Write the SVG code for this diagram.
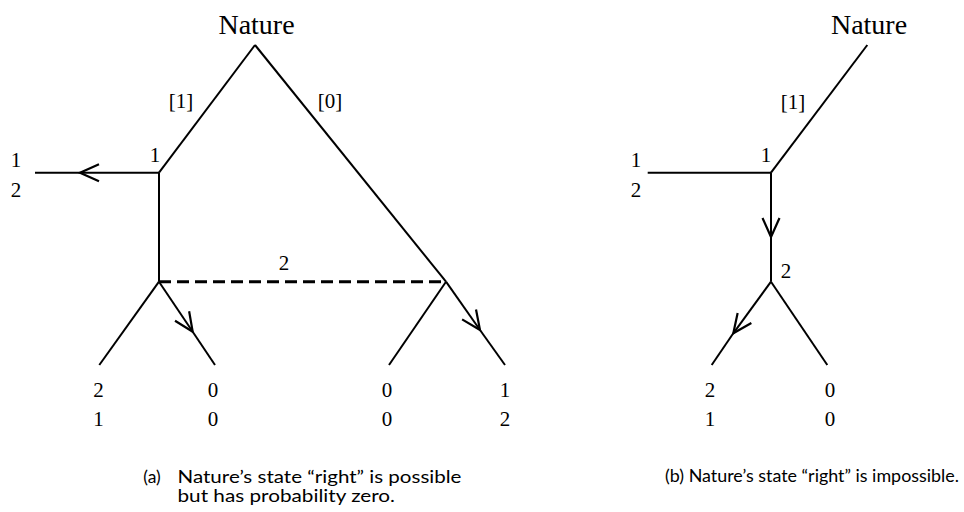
<svg xmlns="http://www.w3.org/2000/svg" width="964" height="512" viewBox="0 0 964 512">
<style>
.lbl{font-family:"Liberation Serif","Times New Roman",serif;font-size:21px;fill:#000;text-anchor:middle}
.nat{font-family:"Liberation Serif","Times New Roman",serif;font-size:28px;fill:#000;text-anchor:middle}
.cap{font-family:Lato,"Open Sans",sans-serif;font-size:17.5px;fill:#000}
.e{stroke:#000;stroke-width:2;fill:none;stroke-linecap:butt}
.dash{stroke:#000;stroke-width:3;fill:none;stroke-dasharray:12 6}
</style>
<defs>
<marker id="chev" markerUnits="userSpaceOnUse" markerWidth="1" markerHeight="1" refX="0" refY="0" orient="auto" overflow="visible">
<path d="M -19 -8.5 L 0 0 L -19 8.5" fill="none" stroke="#000" stroke-width="2.2" stroke-linejoin="miter" stroke-linecap="butt"/>
</marker>
</defs>
<rect width="964" height="512" fill="#fff"/>
<g id="connectors">
<!-- (a) -->
<line class="e" x1="255" y1="45" x2="159" y2="172.7"/>
<line class="e" x1="255" y1="45" x2="446" y2="281.7"/>
<line class="e" x1="159" y1="172.7" x2="80" y2="172.7" marker-end="url(#chev)"/>
<line class="e" x1="80" y1="172.7" x2="35" y2="172.7"/>
<line class="e" x1="159" y1="172.7" x2="159" y2="281.7"/>
<line class="dash" x1="159" y1="281.7" x2="446" y2="281.7"/>
<line class="e" x1="159" y1="281.7" x2="99.3" y2="365"/>
<line class="e" x1="159" y1="281.7" x2="192.7" y2="331.7" marker-end="url(#chev)"/>
<line class="e" x1="192.7" y1="331.7" x2="215" y2="365"/>
<line class="e" x1="446" y1="281.7" x2="389" y2="365"/>
<line class="e" x1="446" y1="281.7" x2="480" y2="330" marker-end="url(#chev)"/>
<line class="e" x1="480" y1="330" x2="505" y2="365"/>
<!-- (b) -->
<line class="e" x1="867.3" y1="45" x2="771" y2="172.7"/>
<line class="e" x1="771" y1="172.7" x2="647.7" y2="172.7"/>
<line class="e" x1="771" y1="172.7" x2="771" y2="237" marker-end="url(#chev)"/>
<line class="e" x1="771" y1="237" x2="771" y2="281.7"/>
<line class="e" x1="771" y1="281.7" x2="733.3" y2="333.3" marker-end="url(#chev)"/>
<line class="e" x1="733.3" y1="333.3" x2="711.7" y2="365"/>
<line class="e" x1="771" y1="281.7" x2="827.3" y2="365"/>
</g>
<!-- diagram (a) nodes -->
<g id="a-nature"><text class="nat" x="256.5" y="34">Nature</text></g>
<g id="a-prob-left"><text class="lbl" x="181" y="108">[1]</text></g>
<g id="a-prob-right"><text class="lbl" x="330" y="108">[0]</text></g>
<g id="a-player1"><text class="lbl" x="155" y="162">1</text></g>
<g id="a-exit-payoff"><text class="lbl" x="16" y="167">1</text><text class="lbl" x="16" y="197">2</text></g>
<g id="a-player2-infoset"><text class="lbl" x="284" y="270">2</text></g>
<g id="a-leaf-1"><text class="lbl" x="98.5" y="397">2</text><text class="lbl" x="98.5" y="426">1</text></g>
<g id="a-leaf-2"><text class="lbl" x="213" y="397">0</text><text class="lbl" x="213" y="426">0</text></g>
<g id="a-leaf-3"><text class="lbl" x="387" y="397">0</text><text class="lbl" x="387" y="426">0</text></g>
<g id="a-leaf-4"><text class="lbl" x="505" y="397">1</text><text class="lbl" x="505" y="426">2</text></g>
<!-- diagram (b) nodes -->
<g id="b-nature"><text class="nat" x="869" y="34">Nature</text></g>
<g id="b-prob"><text class="lbl" x="793" y="109">[1]</text></g>
<g id="b-player1"><text class="lbl" x="766" y="162">1</text></g>
<g id="b-exit-payoff"><text class="lbl" x="636" y="167">1</text><text class="lbl" x="636" y="197">2</text></g>
<g id="b-player2"><text class="lbl" x="786" y="278">2</text></g>
<g id="b-leaf-1"><text class="lbl" x="710" y="397">2</text><text class="lbl" x="710" y="426">1</text></g>
<g id="b-leaf-2"><text class="lbl" x="830" y="397">0</text><text class="lbl" x="830" y="426">0</text></g>
<!-- captions -->
<g id="caption-a">
<text class="cap" x="143.3" y="483">(a)</text>
<text class="cap" x="177.5" y="483" textLength="284" lengthAdjust="spacingAndGlyphs">Nature’s state “right” is possible</text>
<text class="cap" x="177.5" y="502" textLength="217.5" lengthAdjust="spacingAndGlyphs">but has probability zero.</text>
</g>
<g id="caption-b">
<text class="cap" x="665" y="482" textLength="294" lengthAdjust="spacingAndGlyphs">(b) Nature’s state “right” is impossible.</text>
</g>
</svg>
